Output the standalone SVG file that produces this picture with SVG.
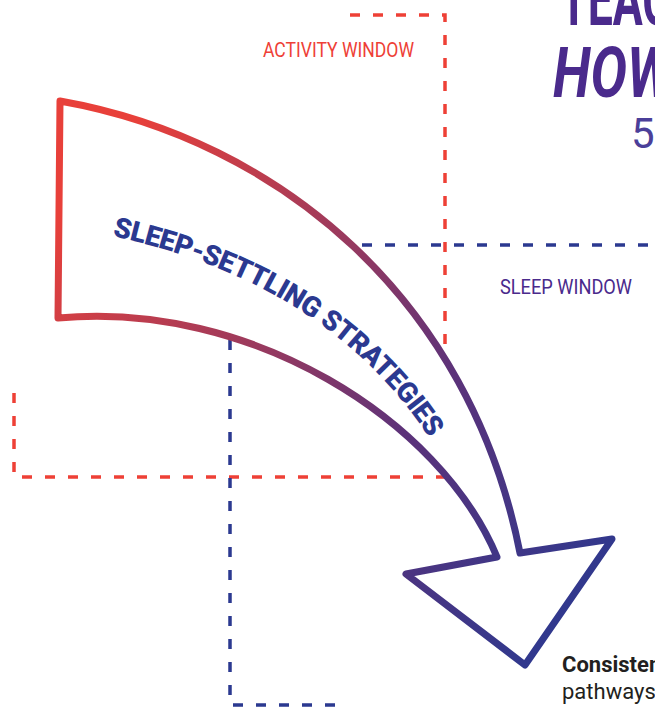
<svg xmlns="http://www.w3.org/2000/svg" width="655" height="707" viewBox="0 0 655 707">
  <defs>
    <linearGradient id="arrowGrad" gradientUnits="userSpaceOnUse" x1="70" y1="200" x2="600" y2="620">
      <stop offset="0" stop-color="#e8403a"/>
      <stop offset="0.35" stop-color="#9a3a5e"/>
      <stop offset="0.6" stop-color="#5c3279"/>
      <stop offset="1" stop-color="#2b3990"/>
    </linearGradient>
    <path id="labelCurve" d="M 112,236 Q 330,283 432,442 L 460,486"/>
  </defs>
  <style>
    .dash-red { stroke: #ee4036; stroke-width: 3.5; stroke-dasharray: 10 13; fill: none; }
    .dash-blue { stroke: #2b3990; stroke-width: 3.5; stroke-dasharray: 10 13; fill: none; }
    .cond { font-family: Roboto, "Liberation Sans", sans-serif; }
    .title { font-family: Roboto, "Liberation Sans", sans-serif; font-weight: 700; fill: #4a2a8c; }
  </style>

  <rect width="655" height="707" fill="#ffffff"/>

  <!-- window outlines -->
  <g id="connectors">
    <path class="dash-red" d="M 350,15 H 445 V 360"/>
    <path class="dash-red" d="M 14,393 V 477 H 445"/>
    <path class="dash-blue" d="M 362,245 H 655"/>
    <path class="dash-blue" d="M 230,340 V 705 H 335"/>
  </g>

  <!-- curved arrow -->
  <g id="arrow">
    <path d="M 60,101 C 280,140 470,300 520,553 L 612,539 L 525,665 L 406,574 L 497,557 C 440,420 250,300 58,318 Z"
          fill="#ffffff" stroke="url(#arrowGrad)" stroke-width="7" stroke-linejoin="round"/>
    <text class="cond" font-size="28" font-weight="900" fill="#2b3990" letter-spacing="-0.5">
      <textPath href="#labelCurve">SLEEP-SETTLING STRATEGIES</textPath>
    </text>
  </g>

  <g id="activity-window">
    <text class="cond" x="263" y="57" font-size="21" fill="#ee4036" textLength="151" lengthAdjust="spacingAndGlyphs">ACTIVITY WINDOW</text>
  </g>

  <g id="sleep-window">
    <text class="cond" x="500" y="294" font-size="21" fill="#4a2a8c" textLength="132" lengthAdjust="spacingAndGlyphs">SLEEP WINDOW</text>
  </g>

  <g id="heading">
    <text class="title" font-size="72" transform="translate(560,25) scale(0.62,1)">TEAC</text>
    <text class="title" font-size="70" font-style="italic" transform="translate(553,97) scale(0.78,1)">HOW</text>
    <text class="cond" x="631" y="148" font-size="42" fill="#4b3f99">5</text>
  </g>

  <g id="note">
    <text class="cond" font-size="22" font-weight="700" fill="#231f20" x="562" y="672">Consistent</text>
    <text class="cond" font-size="22" fill="#231f20" x="562" y="699">pathways</text>
  </g>
</svg>
